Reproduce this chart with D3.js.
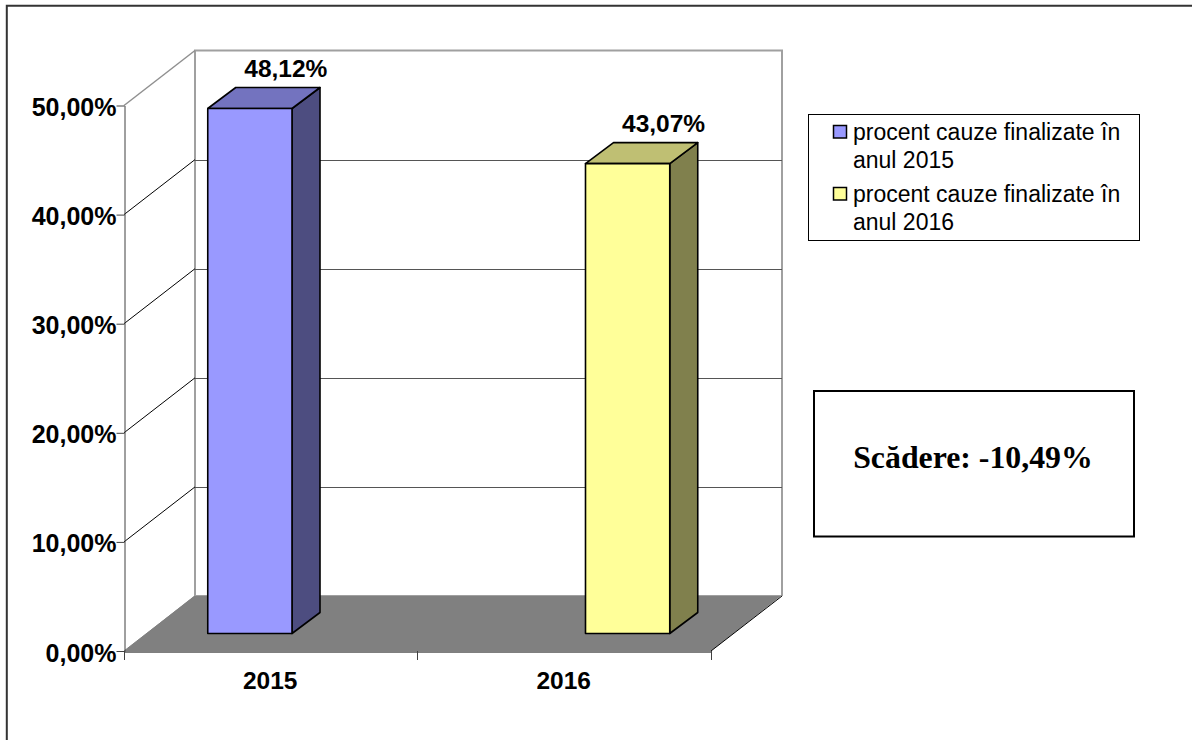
<!DOCTYPE html>
<html>
<head>
<meta charset="utf-8">
<script src="https://cdn.jsdelivr.net/npm/d3@7"></script>
<style>
html, body { margin: 0; padding: 0; background: #fff; }
svg { display: block; }
text { font-family: "Liberation Sans", Arial, sans-serif; fill: #000; }
</style>
</head>
<body>
<svg width="1192" height="740"></svg>
<script>
// chart data
var categories = ["2015", "2016"];
var seriesNames = ["procent cauze finalizate în anul 2015", "procent cauze finalizate în anul 2016"];
var seriesValues = [[48.12, null], [null, 43.07]];
var tickValues = [0, 10, 20, 30, 40, 50];
var barLabels = ["48,12%", "43,07%"];
var noteText = "Scădere: -10,49%";

var frontColors = ["#9999ff", "#ffff99"];
var topColors = ["#7373bf", "#bfbf73"];
var sideColors = ["#4d4d80", "#80804d"];

var svg = d3.select("svg");

// frame, only top and left are inside the picture
svg.append("path").attr("d", "M6.8,740V5.8H1192")
    .attr("fill", "none").attr("stroke", "#333").attr("stroke-width", 2);

// projection: front plane + depth offset
var depthX = 71, depthY = 55;
var barDepthX = 28, barDepthY = 21;
var barShiftX = 21.25, barShiftY = 17.5;

var x0 = d3.scaleBand().domain(categories).range([124, 711]);
var x1 = d3.scaleBand().domain(d3.range(seriesNames.length))
    .range([0, x0.bandwidth()]).paddingInner(0).paddingOuter(62.5 / 84.25);
var y = d3.scaleLinear().domain([0, 50]).range([651, 105.5]);

var fmt = function(d) { return d3.format(".2f")(d).replace(".", ",") + "%"; };

var g = svg.append("g");

// floor
g.append("polygon")
    .attr("points", [[124, y(0)], [711, y(0)], [711 + depthX, y(0) - depthY - 0.7], [124 + depthX, y(0) - depthY - 0.7]].join(" "))
    .attr("fill", "#808080");

// back wall outline
g.append("path")
    .attr("d", "M" + (124 + depthX) + "," + (y(0) - depthY) + "V" + (y(50) - depthY) + "H" + (711 + depthX) + "V" + (y(0) - depthY))
    .attr("fill", "none").attr("stroke", "#a0a0a0").attr("stroke-width", 2);

// side wall top edge
g.append("line")
    .attr("x1", 124).attr("y1", y(50)).attr("x2", 124 + depthX).attr("y2", y(50) - depthY)
    .attr("stroke", "#909090").attr("stroke-width", 1.5);

// grid lines, wall part + back part
tickValues.slice(1, -1).forEach(function(t) {
    g.append("line")
        .attr("x1", 124).attr("y1", y(t)).attr("x2", 124 + depthX).attr("y2", y(t) - depthY)
        .attr("stroke", "#000").attr("stroke-width", 1);
    g.append("line")
        .attr("x1", 124 + depthX).attr("y1", Math.round(y(t) - depthY) + 0.5)
        .attr("x2", 711 + depthX).attr("y2", Math.round(y(t) - depthY) + 0.5)
        .attr("stroke", "#555").attr("stroke-width", 1);
});

// floor side edges
g.append("line").attr("x1", 124).attr("y1", y(0)).attr("x2", 124 + depthX).attr("y2", y(0) - depthY)
    .attr("stroke", "#808080");
g.append("line").attr("x1", 711).attr("y1", y(0)).attr("x2", 711 + depthX).attr("y2", y(0) - depthY)
    .attr("stroke", "#000");

// axes
var yAxis = d3.axisLeft(y).tickValues(tickValues).tickSize(8).tickPadding(0).tickSizeOuter(0).tickFormat(fmt);
var yG = g.append("g").attr("transform", "translate(124.5,0)").call(yAxis);
yG.selectAll("path, line").attr("stroke", "#404040");
yG.selectAll("text").attr("font-size", 25).attr("font-weight", "bold")
    .attr("font-family", "Liberation Sans").attr("dy", "0.4em");

var xAxis = d3.axisBottom(x0).tickValues([]).tickSizeOuter(0);
var xG = g.append("g").attr("transform", "translate(0,651.5)").call(xAxis);
xG.select("path").attr("stroke", "#000").attr("stroke-width", 1);

// x ticks sit between categories
[124, 417, 711].forEach(function(px) {
    g.append("line").attr("x1", px + 0.5).attr("x2", px + 0.5)
        .attr("y1", 651).attr("y2", 660).attr("stroke", "#404040");
});

g.selectAll(".cat").data(categories).enter().append("text")
    .attr("class", "cat")
    .attr("x", function(d) { return x0(d) + x0.bandwidth() / 2 - 0.5; })
    .attr("y", 689)
    .attr("text-anchor", "middle")
    .attr("font-size", 24.5).attr("font-weight", "bold")
    .text(function(d) { return d; });

// bars
seriesNames.forEach(function(name, s) {
    categories.forEach(function(cat, c) {
        var v = seriesValues[s][c];
        if (v == null) return;
        var left = x0(cat) + x1(s) + barShiftX;
        var right = left + x1.bandwidth();
        var base = y(0) - barShiftY;
        var top = base - (y(0) - y(v));
        var bar = g.append("g").attr("stroke", "#000").attr("stroke-width", 1.6).attr("stroke-linejoin", "round");
        bar.append("polygon")
            .attr("points", [[right, top], [right + barDepthX, top - barDepthY], [right + barDepthX, base - barDepthY], [right, base]].join(" "))
            .attr("fill", sideColors[s]);
        bar.append("polygon")
            .attr("points", [[left, top], [left + barDepthX, top - barDepthY], [right + barDepthX, top - barDepthY], [right, top]].join(" "))
            .attr("fill", topColors[s]);
        bar.append("rect")
            .attr("x", left).attr("y", top).attr("width", right - left).attr("height", base - top)
            .attr("fill", frontColors[s]);
        g.append("text")
            .attr("x", left + (right - left) / 2 + barDepthX + 8)
            .attr("y", top - barDepthY - 11)
            .attr("text-anchor", "middle")
            .attr("font-size", 24.5).attr("font-weight", "bold")
            .text(barLabels[s]);
    });
});

// legend
var legend = svg.append("g");
legend.append("rect").attr("x", 808.5).attr("y", 114.5).attr("width", 331).attr("height", 126)
    .attr("fill", "#fff").attr("stroke", "#000");
var legendRows = [
    { y: 140, lines: ["procent cauze finalizate în", "anul 2015"] },
    { y: 202, lines: ["procent cauze finalizate în", "anul 2016"] }
];
legendRows.forEach(function(r, i) {
    legend.append("rect").attr("x", 833.5).attr("y", r.y - 14.5).attr("width", 13).attr("height", 12.5)
        .attr("fill", frontColors[i]).attr("stroke", "#000").attr("stroke-width", 1.5);
    r.lines.forEach(function(line, j) {
        legend.append("text").attr("x", 853).attr("y", r.y + j * 28.3)
            .attr("font-size", 23).text(line);
    });
});

// note box
svg.append("rect").attr("x", 814).attr("y", 391).attr("width", 320).attr("height", 145.5)
    .attr("fill", "#fff").attr("stroke", "#000").attr("stroke-width", 2);
svg.append("text").attr("x", 973).attr("y", 468)
    .attr("text-anchor", "middle")
    .attr("font-size", 31.8).attr("font-weight", "bold")
    .style("font-family", "'Liberation Serif', serif")
    .text(noteText);
</script>
</body>
</html>
